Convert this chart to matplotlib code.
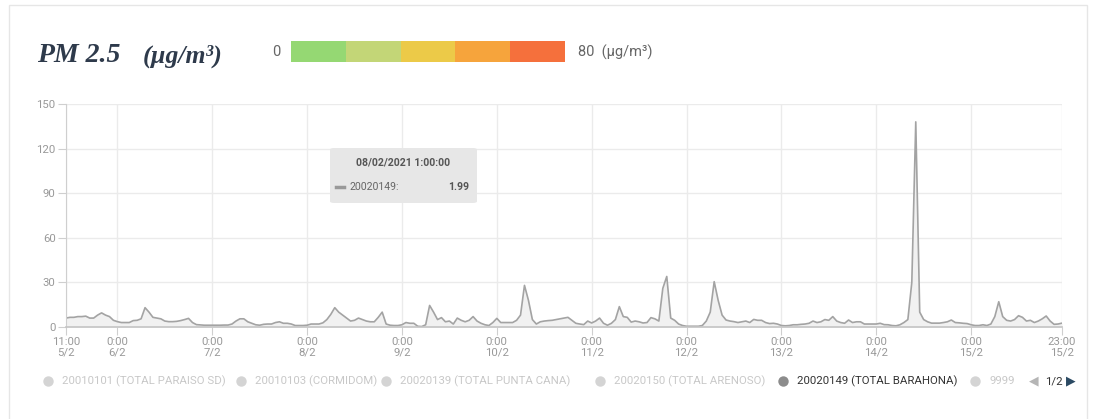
import numpy as np
import pandas as pd
import matplotlib
matplotlib.use("Agg")
import matplotlib.pyplot as plt
from matplotlib.patches import FancyBboxPatch, Rectangle
from matplotlib.lines import Line2D

W, H = 1094, 419

# PM2.5 hourly readings, station 20020149, from 5/2 11:00 to 15/2 23:00
d05 = [6, 6.5, 6.5, 7, 7, 7.3, 6, 6, 8, 9.5, 8, 7, 4.5]
d06 = [3.6, 3, 3, 3, 4.3, 4.5, 5.5, 13, 10, 6.5, 6, 5.5, 4, 3.6, 3.6, 3.8, 4.3, 5, 5.8, 3, 1.6, 1.4, 1.2, 1.2]
d07 = [1.2, 1.2, 1.2, 1.3, 1.3, 2, 4, 5.5, 5.5, 3.5, 2.5, 1.5, 1.2, 1.8, 2, 2, 3, 3.5, 2.5, 2.5, 2, 1, 1, 1]
d08 = [1.2, 1.99, 2, 2, 2.8, 5, 8.5, 13, 10, 8, 6, 4, 4.5, 6, 5, 4, 3.5, 3.5, 6.5, 10, 2, 1.2, 1, 1]
d09 = [1.5, 3, 2.5, 2.5, 0.5, 0.3, 1.5, 14.5, 10, 5, 6.3, 3.5, 4, 2, 6, 4.5, 3.5, 4.5, 7, 4, 2.5, 1.5, 1, 3]
d10 = [5.8, 3, 3, 3, 3, 4.5, 8, 28, 18, 5, 2, 3.5, 4, 4.3, 4.5, 5, 5.5, 6, 6.5, 4.5, 2.5, 2, 1.6, 4]
d11 = [2.7, 4, 6, 2.5, 1.2, 2.5, 5, 13.7, 7, 6.5, 3.3, 4, 3.5, 2.7, 3, 6.3, 5.5, 4, 26, 34, 6, 4.5, 2, 1]
d12 = [0.5, 0.5, 0.5, 0.5, 1, 4, 10, 30.5, 18, 8, 4.7, 4, 3.6, 3, 3.5, 4, 3, 5.1, 4.5, 4.5, 3, 2.3, 2.5, 2]
d13 = [1, 0.8, 1, 1.5, 1.5, 1.8, 2, 2.5, 4, 3, 3.5, 5, 4.5, 7, 4, 3, 2.5, 4.7, 3, 3.5, 3.5, 2, 2, 2]
d14 = [2, 2.5, 1.6, 1.5, 1, 0.8, 1.5, 3, 5, 30, 138, 10, 5, 3.5, 2.6, 2.6, 2.6, 3, 3.5, 4.7, 3, 2.8, 2.5, 2.3]
d15 = [1.5, 1, 1, 1.5, 1, 2, 7, 17, 7, 4.5, 4, 5, 7.6, 6.5, 4, 4.5, 3, 4, 5.5, 7.4, 4, 1.8, 2, 2.6]

pm25 = np.array(d05 + d06 + d07 + d08 + d09 + d10 + d11 + d12 + d13 + d14 + d15)
times = pd.date_range("2021-02-05 11:00", "2021-02-15 23:00", freq="h")

y_ticks = [0, 30, 60, 90, 120, 150]
scale_colors = ["#95d873", "#c3d677", "#ecca48", "#f6a43c", "#f5703c"]
scale_min, scale_max = 0, 80

series_names = ["20010101 (TOTAL PARAISO SD)", "20010103 (CORMIDOM)",
                "20020139 (TOTAL PUNTA CANA)", "20020150 (TOTAL ARENOSO)",
                "20020149 (TOTAL BARAHONA)", "9999"]
active = 4
tip_time = pd.Timestamp("2021-02-08 01:00")

plt.rcParams["font.family"] = ["Roboto", "DejaVu Sans"]


def fx(x):
    return x / W


def fy(y):
    return 1 - y / H


fig = plt.figure(figsize=(W / 100, H / 100), dpi=100)

# card border
fig.add_artist(Rectangle((fx(9), fy(440)), fx(1087 - 9), (440 - 5) / H,
                         transform=fig.transFigure, fill=False,
                         edgecolor="#e6e6e6", lw=1))

# header
fig.text(fx(37), fy(55), "PM 2.5", family="Liberation Serif", style="italic",
         weight="bold", size=20, color="#2e3a4b", va="center")
fig.text(fx(143), fy(56), "(µg/m³)", family="Liberation Serif", style="italic",
         weight="bold", size=18.5, color="#2e3a4b", va="center")

# colour scale
sax = fig.add_axes([fx(291), fy(62), fx(565 - 291), (62 - 41) / H])
step = (scale_max - scale_min) / len(scale_colors)
for i, c in enumerate(scale_colors):
    sax.barh(0, step, left=scale_min + i * step, height=1, color=c)
sax.set_xlim(scale_min, scale_max)
sax.set_ylim(-0.5, 0.5)
sax.axis("off")
fig.text(fx(276), fy(52), str(scale_min), size=10.5, color="#666666",
         ha="center", va="center")
fig.text(fx(578), fy(52), f"{scale_max}  (µg/m³)", size=10.5,
         color="#666666", ha="left", va="center")

# main chart
ax = fig.add_axes([fx(66), fy(327), fx(1062 - 66), (327 - 104) / H])
ax.fill_between(times, pm25, color="#f1f1f1", lw=0)
ax.plot(times, pm25, color="#a3a3a3", lw=1.2)
ax.set_xlim(times[0], times[-1])
ax.set_ylim(0, 150)
ax.set_yticks(y_ticks)

xt = [times[0]] + list(pd.date_range("2021-02-06", "2021-02-15", freq="D")) + [times[-1]]
ax.set_xticks(xt)
ax.set_xticklabels([f"{t.hour}:{t.minute:02d}\n{t.day}/{t.month}" for t in xt])
for lbl in ax.get_xticklabels():
    lbl.set_linespacing(0.95)

ax.grid(True, color="#ebebeb", lw=1)
ax.set_axisbelow(True)
for s in ["top", "right"]:
    ax.spines[s].set_visible(False)
ax.spines["left"].set_color("#cfcfcf")
ax.spines["bottom"].set_color("#c4c4c4")
ax.spines["bottom"].set_linewidth(1.2)
ax.tick_params(axis="both", length=6, color="#cfcfcf", labelcolor="#999999",
               labelsize=8.2, pad=1.5)

# tooltip
k = times.get_loc(tip_time)
fig.add_artist(FancyBboxPatch((fx(330), fy(203)), fx(477 - 330), (203 - 148) / H,
                              boxstyle="round,pad=0,rounding_size=0.004",
                              transform=fig.transFigure, facecolor="#e7e7e7",
                              edgecolor="none"))
fig.text(fx(403), fy(163), tip_time.strftime("%d/%m/%Y ") + f"{tip_time.hour}:00:00",
         size=7.6, weight="bold", color="#555555", ha="center", va="center")
fig.add_artist(Line2D([fx(336), fx(344)], [fy(187), fy(187)], color="#999999",
                      lw=2.5, transform=fig.transFigure))
fig.text(fx(350), fy(187), series_names[active].split()[0] + ":", size=7.6,
         color="#666666", ha="left", va="center")
fig.text(fx(469), fy(187), f"{pm25[k]:.2f}", size=7.6, weight="bold",
         color="#555555", ha="right", va="center")

# legend
dot_x = [48, 241, 386, 600, 783, 975]
for i, (name, x) in enumerate(zip(series_names, dot_x)):
    on = i == active
    fig.add_artist(Line2D([fx(x)], [fy(381)], marker="o", ms=7.5, mew=0,
                          color="#8c8c8c" if on else "#d4d4d4",
                          transform=fig.transFigure))
    fig.text(fx(x + 14), fy(381), name, size=8.2,
             color="#333333" if on else "#c8c8c8", ha="left", va="center")
fig.text(fx(1034), fy(381), "◀", family="DejaVu Sans", size=9,
         color="#b5b5b5", ha="center", va="center")
fig.text(fx(1054), fy(381), "1/2", size=8.2, color="#333333",
         ha="center", va="center")
fig.text(fx(1071), fy(381), "▶", family="DejaVu Sans", size=9,
         color="#2b4a63", ha="center", va="center")

fig.savefig("out.png", dpi=100, facecolor="white")
